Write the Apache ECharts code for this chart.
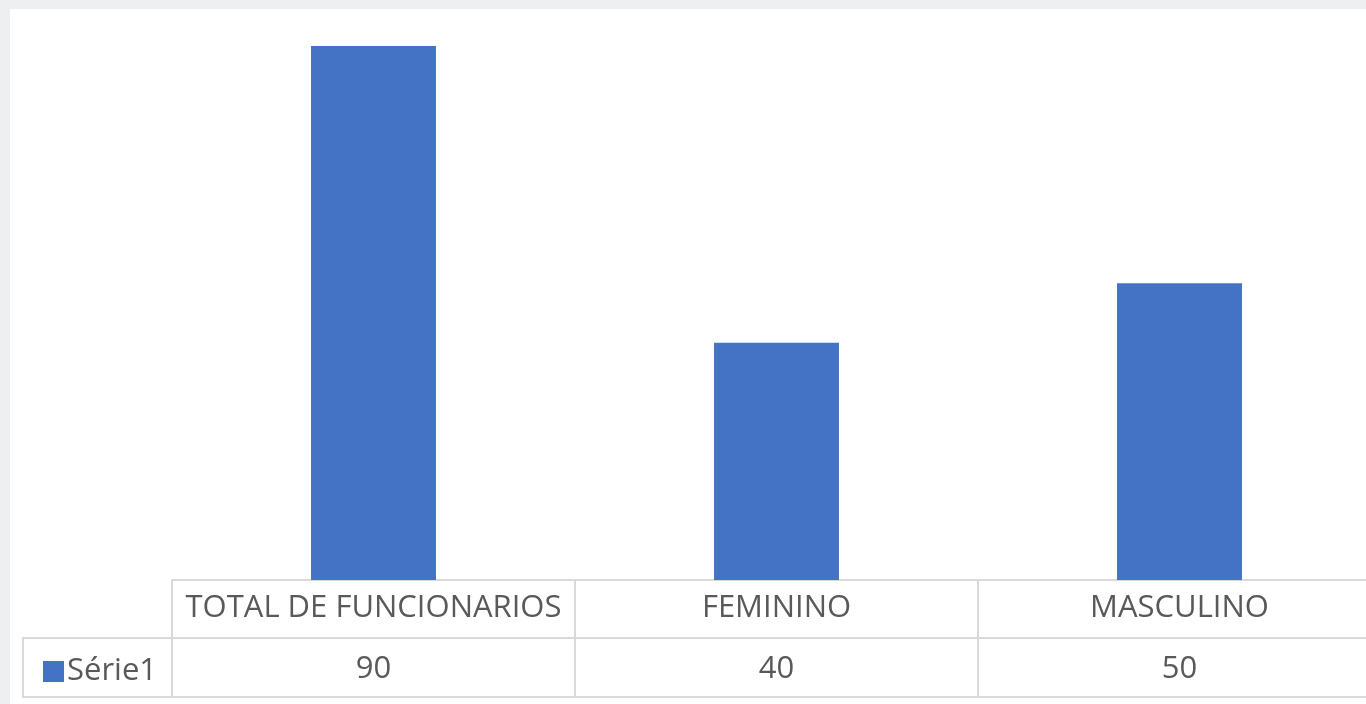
<!DOCTYPE html>
<html><head><meta charset="utf-8">
<script src="https://cdn.jsdelivr.net/npm/echarts@6/dist/echarts.min.js"></script>
<style>
html,body{margin:0;padding:0;background:#eeeff1;width:1366px;height:704px;overflow:hidden;}
#c{position:absolute;left:10px;top:9px;width:1390px;height:695px;background:#fff;}
</style></head><body>
<div id="c"></div>
<script>
const categories = ['TOTAL DE FUNCIONARIOS', 'FEMININO', 'MASCULINO'];
const seriesName = 'Série1';
const values = [90, 40, 50];

const lineColor = '#d9d9d9';
const textColor = '#595959';
const fontFamily = '"Open Sans", Lato, sans-serif';
const chart = echarts.init(document.getElementById('c'));
chart.setOption({
  animation: false,
  grid: { left: 162, right: 19, top: 37, bottom: 124, containLabel: false },
  legend: {
    data: [seriesName], left: 28, top: 642, icon: 'rect', itemWidth: 21, itemHeight: 21, itemGap: 8,
    textStyle: { fontSize: 31, color: textColor, fontFamily: fontFamily, padding: [0, 0, 0, -2] }, selectedMode: false
  },
  xAxis: [
    { type: 'category', data: categories, position: 'bottom',
      axisLine: { show: true, lineStyle: { color: lineColor, width: 2 } },
      axisTick: { show: true, length: 117, interval: 0, lineStyle: { color: lineColor, width: 2 } },
      axisLabel: { interval: 0, margin: 13, fontSize: 31, color: textColor, fontFamily: fontFamily } },
    { type: 'category', data: values.map(String), position: 'bottom', offset: 58,
      axisLine: { show: true, lineStyle: { color: lineColor, width: 2 } },
      axisTick: { show: false },
      axisLabel: { interval: 0, margin: 16, fontSize: 31, color: textColor, fontFamily: fontFamily } },
    { type: 'category', data: categories, position: 'bottom', offset: 117,
      axisLine: { show: true, lineStyle: { color: lineColor, width: 2 } },
      axisTick: { show: false }, axisLabel: { show: false } }
  ],
  yAxis: { type: 'value', min: 0, max: 90, show: false, splitLine: { show: false } },
  series: [{ name: seriesName, type: 'bar', data: values, xAxisIndex: 0, barWidth: '31%',
    itemStyle: { color: '#4472c4' } }],
  graphic: [{ type: 'polyline', shape: { points: [[162, 629], [13, 629], [13, 688], [162, 688]] },
    style: { stroke: lineColor, lineWidth: 2, fill: null }, silent: true }]
});
</script></body></html>
